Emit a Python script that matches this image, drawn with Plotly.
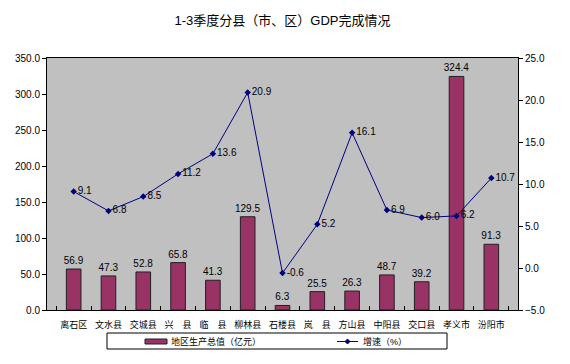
import plotly.graph_objects as go

categories = ["离石区", "文水县", "交城县", "兴　县", "临　县", "柳林县", "石楼县",
              "岚　县", "方山县", "中阳县", "交口县", "孝义市", "汾阳市"]
gdp = [56.9, 47.3, 52.8, 65.8, 41.3, 129.5, 6.3, 25.5, 26.3, 48.7, 39.2, 324.4, 91.3]
growth = [9.1, 6.8, 8.5, 11.2, 13.6, 20.9, -0.6, 5.2, 16.1, 6.9, 6.0, 6.2, 10.7]
left_ticks = [0, 50, 100, 150, 200, 250, 300, 350]
right_ticks = [-5, 0, 5, 10, 15, 20, 25]
title = "1-3季度分县（市、区）GDP完成情况"
legend_bar = "地区生产总值（亿元）"
legend_line = "增速（%）"

BAR_COLOR = "#993366"
LINE_COLOR = "#000080"
FONT = "Liberation Sans, Noto Sans CJK SC, sans-serif"

W, H = 570, 364
L, R, T, B = 47, 518, 58, 310


def px(x):
    return (x - L) / (R - L)


def py(y):
    return (B - y) / (B - T)


fig = go.Figure()
fig.add_trace(go.Bar(
    x=categories, y=gdp, name=legend_bar,
    marker=dict(color=BAR_COLOR, line=dict(color="#202020", width=1)),
    width=0.42,
    text=[f"{v:.1f}" for v in gdp], textposition="outside",
    textfont=dict(size=10, color="black", family=FONT),
    constraintext="none",
    cliponaxis=False, showlegend=False,
))
fig.add_trace(go.Scatter(
    x=categories, y=growth, yaxis="y2", name=legend_line,
    mode="lines+markers+text",
    line=dict(color=LINE_COLOR, width=1),
    marker=dict(symbol="diamond", size=5, color=LINE_COLOR),
    text=[f"{v:.1f}" for v in growth], textposition="middle right",
    textfont=dict(size=10, color="black", family=FONT),
    cliponaxis=False, showlegend=False,
))

shapes = []
annotations = []
# legend box
shapes.append(dict(type="rect", xref="paper", yref="paper",
                   x0=px(107), x1=px(447), y0=py(349), y1=py(333),
                   line=dict(color="black", width=1), fillcolor="white", layer="above"))
shapes.append(dict(type="rect", xref="paper", yref="paper",
                   x0=px(145), x1=px(167), y0=py(344), y1=py(339),
                   line=dict(color="#202020", width=1), fillcolor=BAR_COLOR, layer="above"))
shapes.append(dict(type="line", xref="paper", yref="paper",
                   x0=px(337), x1=px(358), y0=py(341.5), y1=py(341.5),
                   line=dict(color=LINE_COLOR, width=1), layer="above"))
cx, cy, d = 347.5, 341.5, 2.5
shapes.append(dict(type="path", xref="paper", yref="paper",
                   path=f"M{px(cx-d)},{py(cy)} L{px(cx)},{py(cy-d)} L{px(cx+d)},{py(cy)} L{px(cx)},{py(cy+d)} Z",
                   line=dict(color=LINE_COLOR, width=1), fillcolor=LINE_COLOR, layer="above"))
annotations.append(dict(text=legend_bar, xref="paper", yref="paper", x=px(169), y=py(341.5),
                        xanchor="left", yanchor="middle", showarrow=False,
                        font=dict(size=9, color="black", family=FONT)))
annotations.append(dict(text=legend_line, xref="paper", yref="paper", x=px(361), y=py(341.5),
                        xanchor="left", yanchor="middle", showarrow=False,
                        font=dict(size=9, color="black", family=FONT)))

fig.update_layout(
    width=W, height=H,
    margin=dict(l=L, r=W - R, t=T, b=H - B, autoexpand=False),
    paper_bgcolor="white", plot_bgcolor="#C0C0C0",
    title=dict(text=title, x=0.5, xref="paper", y=1 - 20 / H, yanchor="middle",
               font=dict(size=13, color="black", family=FONT)),
    font=dict(family=FONT, size=10, color="black"),
    bargap=0.58,
    xaxis=dict(showline=True, linecolor="black", linewidth=1, mirror=True,
               ticks="inside", tickson="boundaries", ticklen=4, tickcolor="black",
               tickfont=dict(size=9, family=FONT), showgrid=False, fixedrange=True,
               tickangle=0, automargin=False, ticklabelstandoff=6),
    yaxis=dict(range=[0, 350], tickvals=left_ticks, tickformat=".1f",
               showline=True, linecolor="black", linewidth=1,
               ticks="outside", ticklen=4, tickcolor="black", automargin=False,
               showgrid=False, zeroline=False, tickfont=dict(size=10)),
    yaxis2=dict(range=[-5, 25], tickvals=right_ticks, tickformat=".1f",
                overlaying="y", side="right",
                showline=True, linecolor="black", linewidth=1,
                ticks="outside", ticklen=4, tickcolor="black", automargin=False,
                showgrid=False, zeroline=False, tickfont=dict(size=10)),
    shapes=shapes, annotations=annotations,
)

fig.write_html("out.html",
               config={"displayModeBar": False},
               post_script="document.body.style.margin='0';document.body.style.overflow='hidden';")
